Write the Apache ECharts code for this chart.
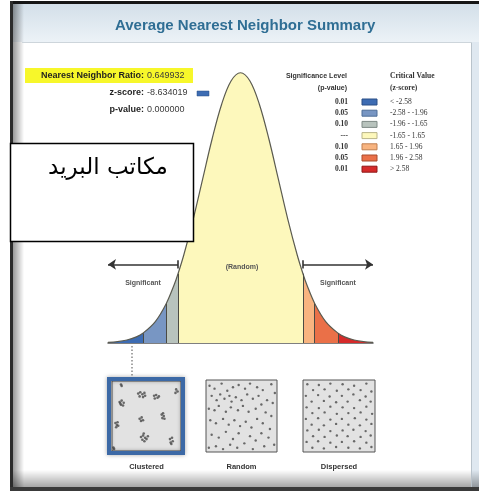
<!DOCTYPE html>
<html><head><meta charset="utf-8">
<script src="https://cdn.jsdelivr.net/npm/echarts@6/dist/echarts.min.js"></script>
<style>html,body{margin:0;padding:0;background:#fff}#chart{width:479px;height:491px}</style>
</head><body><div id="chart"></div>
<script>
// Standard normal density sampled at z positions (includes the critical values)
const curveZ = [-3.5,-3.25,-3,-2.75,-2.58,-2.25,-1.96,-1.75,-1.65,-1.5,-1.25,-1,-0.75,-0.5,-0.25,0,
  0.25,0.5,0.75,1,1.25,1.5,1.65,1.75,1.96,2.25,2.58,2.75,3,3.25,3.5];
const curveDensity = [0.0009,0.0020,0.0044,0.0091,0.0143,0.0317,0.0584,0.0863,0.1023,0.1295,0.1826,0.2420,0.3011,0.3521,0.3867,0.3989,
  0.3867,0.3521,0.3011,0.2420,0.1826,0.1295,0.1023,0.0863,0.0584,0.0317,0.0143,0.0091,0.0044,0.0020,0.0009];

// Critical z-score breaks and the colour of each band
const zBreaks = [-2.58,-1.96,-1.65,1.65,1.96,2.58];
const binColors = ['#3d6cb3','#7896c3','#b8c3bd','#fdf8bc','#f8b480','#ea7048','#d62a2a'];
const binBorders = ['#2a4f86','#4f6e98','#7f8a86','#b9b488','#c07f50','#a94a2c','#8e1818'];
const pLevels = ['0.01','0.05','0.10','---','0.10','0.05','0.01'];
const zRanges = ['< -2.58','-2.58 - -1.96','-1.96 - -1.65','-1.65 - 1.65','1.65 - 1.96','1.96 - 2.58','> 2.58'];

// Summary statistics
const statLabels = ['Nearest Neighbor Ratio:','z-score:','p-value:'];
const statValues = ['0.649932','-8.634019','0.000000'];

// Point patterns for the three example panels (0-100 space)
const patternNames = ['Clustered','Random','Dispersed'];
const clusteredPts = [
  [11,70],[14,72],[17,69],[13,66],[16,65],[12,68],[13,95],[14,93],
  [38,82],[41,84],[44,81],[47,83],[40,78],[45,77],[48,79],
  [61,79],[64,80],[66,76],[62,75],[68,78],
  [93,88],[95,85],[92,83],
  [40,46],[43,48],[45,44],[42,43],
  [72,52],[75,50],[73,47],[76,46],[74,54],
  [5,40],[8,41],[7,37],[9,36],[6,34],
  [42,20],[45,22],[48,19],[50,17],[44,16],[47,14],[52,21],[46,25],
  [84,17],[87,19],[88,14],[85,12],[86,10],
  [2,5],[3,3]
];
const randomPts = [
  [5,92],[12,88],[22,95],[30,85],[38,90],[46,93],[55,88],[62,95],[72,90],[80,86],[92,94],[97,82],
  [8,78],[15,72],[20,80],[26,74],[33,78],[36,70],[42,76],[50,72],[58,80],[66,74],[74,78],[86,72],[94,68],
  [4,60],[12,58],[18,64],[28,56],[35,62],[45,58],[52,64],[60,56],[70,60],[78,66],[84,55],[92,50],
  [6,44],[14,40],[24,46],[32,38],[40,44],[48,36],[56,42],[64,34],[72,46],[80,40],[90,32],
  [8,24],[18,20],[28,28],[38,18],[46,26],[54,12],[62,22],[70,16],[78,26],[88,20],[96,10],
  [4,6],[14,8],[24,4],[34,10],[44,6],[66,4],[82,8]
];
const dispersedPts = [
  [6,94],[22,93],[38,95],[55,94],[71,92],[88,95],
  [14,86],[30,87],[47,85],[63,87],[80,86],[95,84],
  [4,78],[21,79],[37,77],[54,78],[70,80],[87,77],
  [12,70],[29,71],[46,69],[62,70],[79,72],[94,70],
  [5,62],[22,61],[38,63],[55,62],[71,61],[88,63],
  [13,54],[30,55],[47,53],[63,54],[80,55],[96,53],
  [4,46],[21,47],[38,45],[54,46],[72,47],[88,45],
  [12,38],[29,37],[46,39],[63,38],[79,37],[95,39],
  [6,30],[22,31],[38,29],[55,30],[70,31],[87,29],
  [14,22],[30,21],[47,23],[62,22],[80,21],[94,23],
  [5,14],[21,15],[38,13],[54,14],[71,15],[88,13],
  [13,6],[29,5],[46,7],[63,6],[79,5],[95,7]
];

const SANS = '"Liberation Sans", Arial, sans-serif';
const SERIF = '"Liberation Serif", "Times New Roman", serif';

const curveData = curveZ.map((z, i) => [z, curveDensity[i]]);
const heightAt = z => curveDensity[curveZ.indexOf(z)];

// Colour bands along the z axis
const pieces = [];
for (let i = 0; i < binColors.length; i++) {
  const p = { color: binColors[i] };
  if (i > 0) p.gte = zBreaks[i - 1];
  if (i < zBreaks.length) p.lt = zBreaks[i];
  pieces.push(p);
}

const breakLines = zBreaks.map(z => [
  { coord: [z, 0], symbol: 'none' },
  { coord: [z, heightAt(z)], symbol: 'none' }
]);

const arrowY = 0.116, barHalf = 0.006;
const arrowLines = [
  [{ coord: [-3.5, arrowY], symbol: 'arrow', label: { show: true, formatter: 'Significant' } }, { coord: [-1.65, arrowY], symbol: 'none' }],
  [{ coord: [1.65, arrowY], symbol: 'none', label: { show: true, formatter: 'Significant' } }, { coord: [3.5, arrowY], symbol: 'arrow' }],
  [{ coord: [-1.65, arrowY - barHalf], symbol: 'none' }, { coord: [-1.65, arrowY + barHalf], symbol: 'none' }],
  [{ coord: [1.65, arrowY - barHalf], symbol: 'none' }, { coord: [1.65, arrowY + barHalf], symbol: 'none' }]
];

const patternGrids = [
  { left: 112, top: 381, width: 69, height: 70 },
  { left: 206, top: 380, width: 71, height: 72 },
  { left: 303, top: 380, width: 72, height: 72 }
];
const patternData = [clusteredPts, randomPts, dispersedPts];

// Page furniture, summary block and legend
const graphic = [];
graphic.push({ type: 'rect', z: -10, shape: { x: 13, y: 4, width: 466, height: 38 },
  style: { fill: { type: 'linear', x: 0, y: 0, x2: 0, y2: 1, colorStops: [{ offset: 0, color: '#d3dfe9' }, { offset: 1, color: '#ecf2f7' }] } } });
graphic.push({ type: 'rect', z: -9, shape: { x: 10, y: 1, width: 469, height: 3 }, style: { fill: '#161616' } });
graphic.push({ type: 'rect', z: -9, shape: { x: 10, y: 1, width: 3, height: 490 }, style: { fill: '#2c2c2c' } });
graphic.push({ type: 'rect', z: -9, shape: { x: 13, y: 4, width: 11, height: 487 },
  style: { fill: { type: 'linear', x: 0, y: 0, x2: 1, y2: 0, colorStops: [{ offset: 0, color: 'rgba(0,0,0,0.4)' }, { offset: 1, color: 'rgba(0,0,0,0)' }] } } });
graphic.push({ type: 'rect', z: -9, shape: { x: 472, y: 42, width: 7, height: 446 }, style: { fill: '#dfe8f0' } });
graphic.push({ type: 'line', z: -8, shape: { x1: 471.5, y1: 42, x2: 471.5, y2: 488 }, style: { stroke: '#b9c3cb', lineWidth: 1 } });
graphic.push({ type: 'line', z: -8, shape: { x1: 22, y1: 42.5, x2: 472, y2: 42.5 }, style: { stroke: '#cdd5db', lineWidth: 1 } });
graphic.push({ type: 'rect', z: -9, shape: { x: 13, y: 470, width: 466, height: 17 },
  style: { fill: { type: 'linear', x: 0, y: 0, x2: 0, y2: 1, colorStops: [{ offset: 0, color: 'rgba(0,0,0,0)' }, { offset: 1, color: 'rgba(0,0,0,0.35)' }] } } });
graphic.push({ type: 'rect', z: -8, shape: { x: 10, y: 487, width: 469, height: 4 }, style: { fill: '#3a3a3a' } });

// Summary statistics
graphic.push({ type: 'rect', z: 5, shape: { x: 25, y: 68, width: 168, height: 15 }, style: { fill: '#f7f72a' } });
const statY = [76, 93, 110];
statLabels.forEach((t, i) => {
  graphic.push({ type: 'text', z: 6, x: 144, y: statY[i], style: { text: t, fill: '#1f1f1f', font: 'bold 9px ' + SANS, align: 'right', verticalAlign: 'middle' } });
  graphic.push({ type: 'text', z: 6, x: 147, y: statY[i], style: { text: statValues[i], fill: '#3a3a3a', font: '9px ' + SANS, align: 'left', verticalAlign: 'middle' } });
});
graphic.push({ type: 'rect', z: 6, shape: { x: 197, y: 91, width: 12, height: 5 }, style: { fill: binColors[0], stroke: binBorders[0], lineWidth: 0.5 } });

// Legend
graphic.push({ type: 'text', z: 6, x: 347, y: 76, style: { text: 'Significance Level', fill: '#333', font: 'bold 7px ' + SANS, align: 'right', verticalAlign: 'middle' } });
graphic.push({ type: 'text', z: 6, x: 347, y: 88, style: { text: '(p-value)', fill: '#333', font: 'bold 7px ' + SANS, align: 'right', verticalAlign: 'middle' } });
graphic.push({ type: 'text', z: 6, x: 390, y: 76, style: { text: 'Critical Value', fill: '#333', font: 'bold 7.5px ' + SERIF, align: 'left', verticalAlign: 'middle' } });
graphic.push({ type: 'text', z: 6, x: 390, y: 88, style: { text: '(z-score)', fill: '#333', font: 'bold 7.5px ' + SERIF, align: 'left', verticalAlign: 'middle' } });
binColors.forEach((c, i) => {
  const y = 102 + i * 11.2;
  graphic.push({ type: 'text', z: 6, x: 348, y: y, style: { text: pLevels[i], fill: '#333', font: 'bold 7.5px ' + SERIF, align: 'right', verticalAlign: 'middle' } });
  graphic.push({ type: 'rect', z: 6, shape: { x: 362, y: y - 3, width: 15, height: 6 }, style: { fill: c, stroke: binBorders[i], lineWidth: 1 } });
  graphic.push({ type: 'text', z: 6, x: 390, y: y, style: { text: zRanges[i], fill: '#333', font: '7.5px ' + SERIF, align: 'left', verticalAlign: 'middle' } });
});

// Curve annotations
graphic.push({ type: 'text', z: 6, x: 242, y: 267, style: { text: '(Random)', fill: '#555', font: 'bold 7px ' + SANS, align: 'center', verticalAlign: 'middle' } });
graphic.push({ type: 'line', z: 6, shape: { x1: 132, y1: 346, x2: 132, y2: 377 }, style: { stroke: '#888', lineWidth: 1.5, lineDash: [1.5, 2] } });

// Pattern panel frame and captions
graphic.push({ type: 'rect', z: 6, shape: { x: 109, y: 379, width: 74, height: 74 },
  style: { fill: 'none', stroke: '#3c69a6', lineWidth: 4, shadowBlur: 4, shadowColor: 'rgba(0,0,0,0.35)' } });
patternGrids.forEach((g, i) => {
  graphic.push({ type: 'text', z: 6, x: g.left + g.width / 2, y: 467, style: { text: patternNames[i], fill: '#333', font: 'bold 7.5px ' + SANS, align: 'center', verticalAlign: 'middle' } });
});

// Caption box
graphic.push({ type: 'rect', z: 50, shape: { x: 10.5, y: 143.5, width: 183, height: 98 }, style: { fill: '#fff', stroke: '#000', lineWidth: 1.5 } });
graphic.push({ type: 'text', z: 51, x: 108, y: 168, style: { text: 'مكاتب البريد', fill: '#000', font: '23px "DejaVu Sans", sans-serif', align: 'center', verticalAlign: 'middle' } });

const option = {
  animation: false,
  title: {
    text: 'Average Nearest Neighbor Summary', left: 110, top: 13,
    textStyle: { color: '#2f6e94', fontSize: 15, fontWeight: 'bold', fontFamily: SANS }
  },
  grid: [
    { left: 108, top: 72, width: 265, height: 271 },
    ...patternGrids.map(g => Object.assign({ show: true, backgroundColor: '#e2e2e2', borderColor: '#555', borderWidth: 1 }, g))
  ],
  xAxis: [
    { gridIndex: 0, type: 'value', min: -3.5, max: 3.5,
      axisLine: { lineStyle: { color: '#555', width: 1.5 } },
      axisTick: { show: true, inside: true, length: 3, customValues: [0], lineStyle: { color: '#444' } },
      axisLabel: { show: false }, splitLine: { show: false } },
    { gridIndex: 1, type: 'value', min: 0, max: 100, show: false },
    { gridIndex: 2, type: 'value', min: 0, max: 100, show: false },
    { gridIndex: 3, type: 'value', min: 0, max: 100, show: false }
  ],
  yAxis: [
    { gridIndex: 0, type: 'value', min: 0, max: 0.4, show: false },
    { gridIndex: 1, type: 'value', min: 0, max: 100, show: false },
    { gridIndex: 2, type: 'value', min: 0, max: 100, show: false },
    { gridIndex: 3, type: 'value', min: 0, max: 100, show: false }
  ],
  visualMap: { show: false, type: 'piecewise', dimension: 0, seriesIndex: 0, pieces: pieces },
  series: [
    { type: 'line', xAxisIndex: 0, yAxisIndex: 0, data: curveData, smooth: 0.35,
      symbol: 'none', lineStyle: { opacity: 0 }, areaStyle: { opacity: 1 }, silent: true, z: 2 },
    { type: 'line', xAxisIndex: 0, yAxisIndex: 0, data: curveData, smooth: 0.35,
      symbol: 'none', lineStyle: { color: '#5b5b50', width: 1.2 }, silent: true, z: 3,
      markLine: {
        silent: true, symbol: 'none', symbolSize: 7,
        lineStyle: { color: '#4b4b44', width: 1, type: 'solid' },
        label: { show: false },
        data: breakLines
      }
    },
    { type: 'line', xAxisIndex: 0, yAxisIndex: 0, data: [], silent: true,
      markLine: {
        silent: true, symbolSize: 8,
        lineStyle: { color: '#333', width: 1.6, type: 'solid' },
        label: { show: false, position: 'insideMiddleBottom', distance: 15, color: '#555', fontSize: 7, fontWeight: 'bold', fontFamily: SANS },
        data: arrowLines
      }
    },
    ...patternData.map((pts, i) => ({
      type: 'scatter', xAxisIndex: i + 1, yAxisIndex: i + 1, data: pts, silent: true,
      symbolSize: i === 0 ? 2.6 : 2.4, itemStyle: { color: '#4a4a4a' }
    }))
  ],
  graphic: graphic
};

const chart = echarts.init(document.getElementById('chart'));
chart.setOption(option);
</script>
</body></html>
